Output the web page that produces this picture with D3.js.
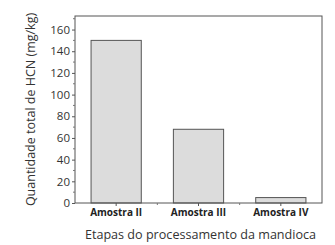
<!DOCTYPE html>
<html>
<head>
<meta charset="utf-8">
<script src="https://cdn.jsdelivr.net/npm/d3@7"></script>
<style>
  body { margin: 0; background: #fff; }
  text { font-family: "Open Sans", Lato, sans-serif; }
</style>
</head>
<body>
<div id="chart"></div>
<script>
// Data
var samples = ["Amostra II", "Amostra III", "Amostra IV"];
var hcnValues = [150, 68, 5];
var yTicks = [0, 20, 40, 60, 80, 100, 120, 140, 160];

var svgWidth = 335;
var svgHeight = 245;
var margin = { top: 16, right: 13, bottom: 42, left: 75 };
var width = svgWidth - margin.left - margin.right;
var height = svgHeight - margin.top - margin.bottom;

var svg = d3.select("#chart")
    .append("svg")
    .attr("width", svgWidth)
    .attr("height", svgHeight);

var chartGroup = svg.append("g")
    .attr("transform", `translate(${margin.left}, ${margin.top})`);

// Scales
var xScale = d3.scaleBand()
    .domain(samples)
    .range([0, width])
    .paddingInner(0.39)
    .paddingOuter(0.195);

var yScale = d3.scaleLinear()
    .domain([0, 172.5])
    .range([height, 0]);

// Bars
chartGroup.selectAll("rect.bar")
    .data(hcnValues).enter()
    .append("rect")
    .attr("class", "bar")
    .attr("x", (d, i) => xScale(samples[i]))
    .attr("y", d => yScale(d))
    .attr("width", xScale.bandwidth())
    .attr("height", d => height - yScale(d))
    .attr("fill", "#dcdcdc")
    .attr("stroke", "#555")
    .attr("stroke-width", 1);

// Frame
chartGroup.append("rect")
    .attr("x", 0).attr("y", 0)
    .attr("width", width).attr("height", height)
    .attr("fill", "none")
    .attr("stroke", "#555")
    .attr("stroke-width", 1);

// Left axis with minor ticks
var leftAxis = d3.axisLeft(yScale).tickValues(yTicks).tickSize(3).tickPadding(2);
var yAxisG = chartGroup.append("g").call(leftAxis);
yAxisG.select(".domain").remove();
yAxisG.selectAll("line").attr("stroke", "#555");
yAxisG.selectAll("text")
    .attr("font-size", 11.5)
    .attr("fill", "#333");

var minorY = d3.range(10, 171, 20);
chartGroup.selectAll("line.minory")
    .data(minorY).enter()
    .append("line")
    .attr("x1", 0).attr("x2", -2)
    .attr("y1", d => yScale(d)).attr("y2", d => yScale(d))
    .attr("stroke", "#777");

// Bottom axis
var bottomAxis = d3.axisBottom(xScale).tickSize(3).tickPadding(3);
var xAxisG = chartGroup.append("g")
    .attr("transform", `translate(0, ${height})`)
    .call(bottomAxis);
xAxisG.select(".domain").remove();
xAxisG.selectAll("line").attr("stroke", "#555");
xAxisG.selectAll("text")
    .attr("font-size", 10)
    .attr("font-weight", "bold")
    .attr("fill", "#222");

// Minor ticks between categories
var step = xScale.step();
var minorX = samples.slice(0, -1).map(s => xScale(s) + xScale.bandwidth() + (step - xScale.bandwidth()) / 2);
chartGroup.selectAll("line.minorx")
    .data(minorX).enter()
    .append("line")
    .attr("x1", d => d).attr("x2", d => d)
    .attr("y1", height).attr("y2", height + 2)
    .attr("stroke", "#777");

// Axis labels
chartGroup.append("text")
    .attr("transform", "rotate(-90)")
    .attr("x", -height / 2)
    .attr("y", -40)
    .attr("text-anchor", "middle")
    .attr("font-size", 12.5)
    .attr("fill", "#333")
    .text("Quantidade total de HCN (mg/kg)");

chartGroup.append("text")
    .attr("x", width / 2 + 2)
    .attr("y", height + 36)
    .attr("text-anchor", "middle")
    .attr("font-size", 12.6)
    .attr("fill", "#333")
    .text("Etapas do processamento da mandioca");
</script>
</body>
</html>
